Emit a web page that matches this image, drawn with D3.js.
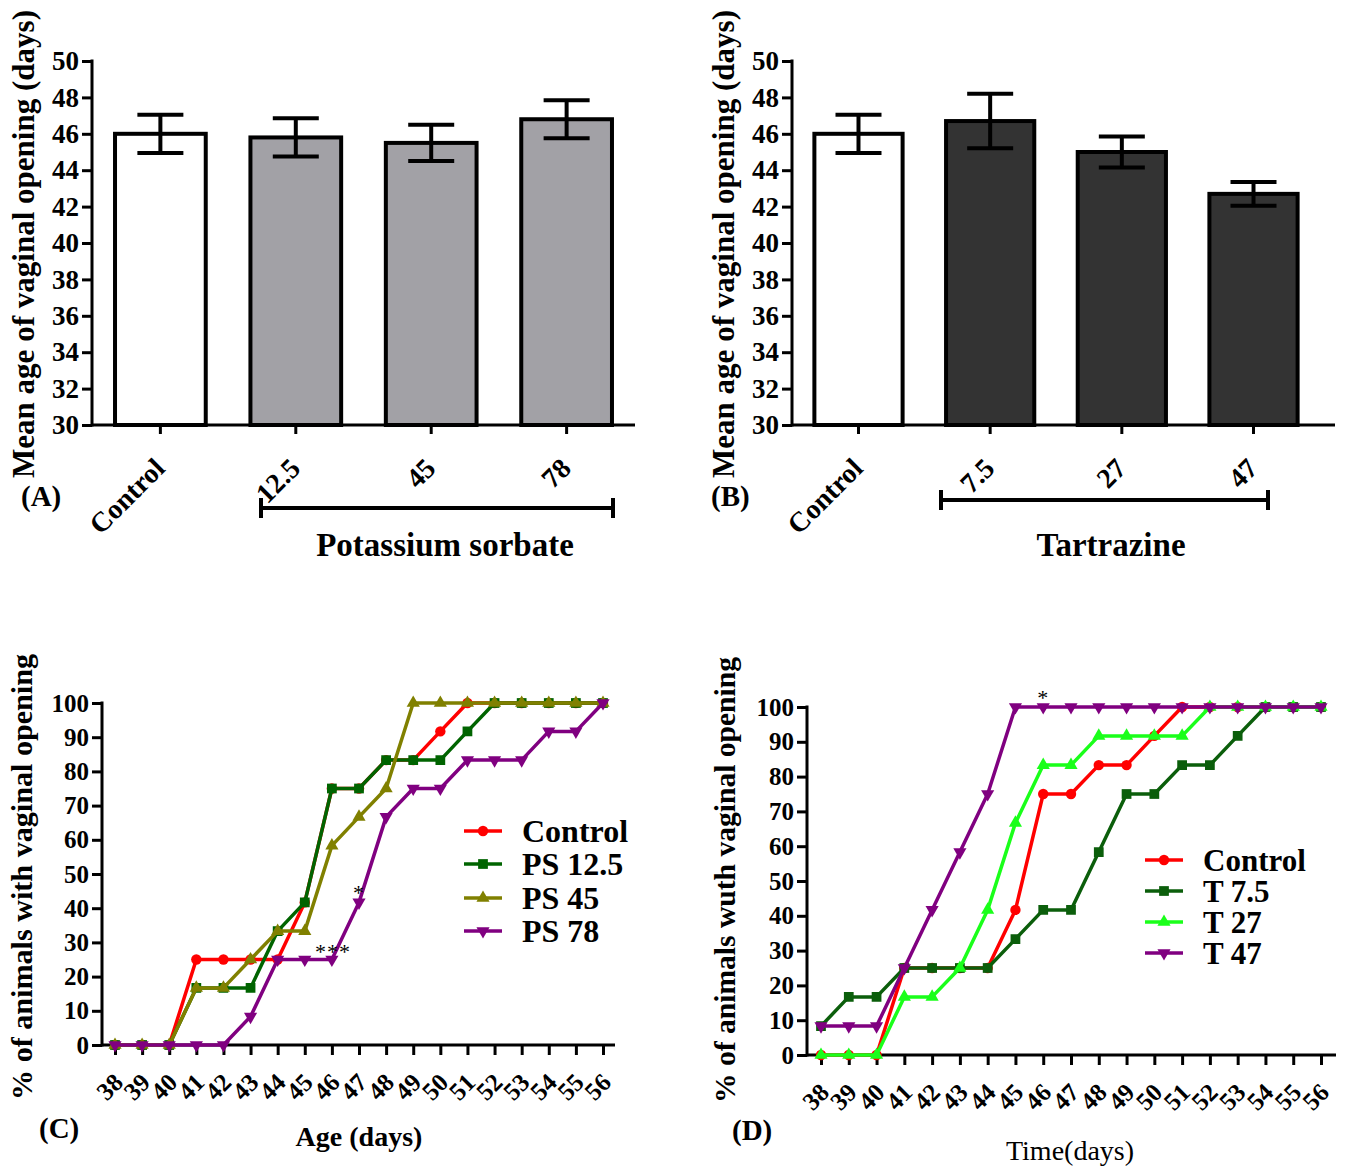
<!DOCTYPE html>
<html>
<head>
<meta charset="utf-8">
<script src="https://cdn.jsdelivr.net/npm/d3@7"></script>
<style>
  body { margin: 0; background: #fff; }
  svg { display: block; font-family: "Liberation Serif", "Times New Roman", serif; }
</style>
</head>
<body>
<svg id="fig" width="1346" height="1167"></svg>
<script>
// ---- data: panels A and B (mean age at vaginal opening, days) ----
var groupsA = ["Control", "12.5", "45", "78"];
var meansA = [46.0, 45.8, 45.5, 46.8];
var errA = [1.05, 1.05, 1.0, 1.05];
var fillsA = ["#ffffff", "#a2a1a6", "#a2a1a6", "#a2a1a6"];

var groupsB = ["Control", "7.5", "27", "47"];
var meansB = [46.0, 46.7, 45.0, 42.7];
var errB = [1.05, 1.5, 0.85, 0.65];
var fillsB = ["#ffffff", "#333333", "#333333", "#333333"];

var barTicks = [30, 32, 34, 36, 38, 40, 42, 44, 46, 48, 50];

// ---- data: panels C and D (% of animals with vaginal opening) ----
var days = [38, 39, 40, 41, 42, 43, 44, 45, 46, 47, 48, 49, 50, 51, 52, 53, 54, 55, 56];
var pctTicks = [0, 10, 20, 30, 40, 50, 60, 70, 80, 90, 100];

var controlC = [0, 0, 0, 25, 25, 25, 25, 41.7, 75, 75, 83.3, 83.3, 91.7, 100, 100, 100, 100, 100, 100];
var ps125 = [0, 0, 0, 16.7, 16.7, 16.7, 33.3, 41.7, 75, 75, 83.3, 83.3, 83.3, 91.7, 100, 100, 100, 100, 100];
var ps45 = [0, 0, 0, 16.7, 16.7, 25, 33.3, 33.3, 58.3, 66.7, 75, 100, 100, 100, 100, 100, 100, 100, 100];
var ps78 = [0, 0, 0, 0, 0, 8.3, 25, 25, 25, 41.7, 66.7, 75, 75, 83.3, 83.3, 83.3, 91.7, 91.7, 100];

var controlD = [0, 0, 0, 25, 25, 25, 25, 41.7, 75, 75, 83.3, 83.3, 91.7, 100, 100, 100, 100, 100, 100];
var t75 = [8.3, 16.7, 16.7, 25, 25, 25, 25, 33.3, 41.7, 41.7, 58.3, 75, 75, 83.3, 83.3, 91.7, 100, 100, 100];
var t27 = [0, 0, 0, 16.7, 16.7, 25, 41.7, 66.7, 83.3, 83.3, 91.7, 91.7, 91.7, 91.7, 100, 100, 100, 100, 100];
var t47 = [8.3, 8.3, 8.3, 25, 41.7, 58.3, 75, 100, 100, 100, 100, 100, 100, 100, 100, 100, 100, 100, 100];

var svg = d3.select("#fig");

function styleAxis(g, fontSize) {
    g.selectAll(".domain").remove();
    g.selectAll("line").attr("stroke", "#000").attr("stroke-width", 3);
    g.selectAll("text")
        .attr("fill", "#000")
        .style("font-family", "'Liberation Serif', 'Times New Roman', serif")
        .style("font-weight", "bold")
        .style("font-size", fontSize + "px");
}

function drawBarPanel(p) {
    var g = svg.append("g");
    var y = d3.scaleLinear().domain([30, 50]).range([425, 61]);
    var x = d3.scaleBand().domain(p.groups).range([p.left, p.right])
        .paddingInner(0.33).paddingOuter(0.17);

    // bars
    g.selectAll("rect.bar").data(p.groups).enter().append("rect")
        .attr("class", "bar")
        .attr("x", d => x(d))
        .attr("width", x.bandwidth())
        .attr("y", (d, i) => y(p.means[i]))
        .attr("height", (d, i) => y(30) - y(p.means[i]))
        .attr("fill", (d, i) => p.fills[i])
        .attr("stroke", "#000")
        .attr("stroke-width", 4);

    // error bars
    var eb = g.selectAll("g.err").data(p.groups).enter().append("g").attr("class", "err");
    eb.append("line")
        .attr("x1", d => x(d) + x.bandwidth() / 2)
        .attr("x2", d => x(d) + x.bandwidth() / 2)
        .attr("y1", (d, i) => y(p.means[i] - p.errs[i]))
        .attr("y2", (d, i) => y(p.means[i] + p.errs[i]))
        .attr("stroke", "#000").attr("stroke-width", 4);
    [-1, 1].forEach(function (s) {
        eb.append("line")
            .attr("x1", d => x(d) + x.bandwidth() / 2 - 23)
            .attr("x2", d => x(d) + x.bandwidth() / 2 + 23)
            .attr("y1", (d, i) => y(p.means[i] + s * p.errs[i]))
            .attr("y2", (d, i) => y(p.means[i] + s * p.errs[i]))
            .attr("stroke", "#000").attr("stroke-width", 4);
    });

    // y axis
    var ya = g.append("g").attr("transform", "translate(" + p.left + ",0)")
        .call(d3.axisLeft(y).tickValues(barTicks).tickSize(10).tickPadding(3));
    styleAxis(ya, 27);
    g.append("line").attr("x1", p.left).attr("x2", p.left)
        .attr("y1", y(50) - 1.5).attr("y2", y(30) + 1.5)
        .attr("stroke", "#000").attr("stroke-width", 3);

    // x axis
    var xa = g.append("g").attr("transform", "translate(0,425)")
        .call(d3.axisBottom(x).tickSize(9).tickPadding(0));
    styleAxis(xa, 28);
    xa.selectAll("text")
        .attr("y", 0).attr("dy", 0)
        .attr("text-anchor", "end")
        .attr("transform", "translate(6,45) rotate(-45)");
    g.append("line").attr("x1", p.left).attr("x2", p.axisEnd)
        .attr("y1", 425).attr("y2", 425)
        .attr("stroke", "#000").attr("stroke-width", 3);

    // bracket under treatment groups
    g.append("line").attr("x1", p.br[0]).attr("x2", p.br[1])
        .attr("y1", p.brY).attr("y2", p.brY)
        .attr("stroke", "#000").attr("stroke-width", 4);
    p.br.forEach(function (bx) {
        g.append("line").attr("x1", bx).attr("x2", bx)
            .attr("y1", p.brY - 10).attr("y2", p.brY + 10)
            .attr("stroke", "#000").attr("stroke-width", 4);
    });
    g.append("text").attr("x", p.labelX).attr("y", 556)
        .attr("text-anchor", "middle")
        .style("font-weight", "bold").style("font-size", "33px")
        .text(p.label);

    // y title
    g.append("text")
        .attr("transform", "translate(" + p.titleX + ",244) rotate(-90)")
        .attr("text-anchor", "middle")
        .attr("textLength", 468).attr("lengthAdjust", "spacingAndGlyphs")
        .style("font-weight", "bold").style("font-size", "31px")
        .text("Mean age of vaginal opening (days)");

    g.append("text").attr("x", p.tagX).attr("y", 506)
        .style("font-weight", "bold").style("font-size", "29px")
        .text(p.tag);
}

drawBarPanel({
    groups: groupsA, means: meansA, errs: errA, fills: fillsA,
    left: 92, right: 635, axisEnd: 635,
    br: [261, 613], brY: 508, label: "Potassium sorbate", labelX: 445,
    titleX: 34, tag: "(A)", tagX: 21
});

drawBarPanel({
    groups: groupsB, means: meansB, errs: errB, fills: fillsB,
    left: 792, right: 1320, axisEnd: 1335,
    br: [941, 1268], brY: 500, label: "Tartrazine", labelX: 1111,
    titleX: 734, tag: "(B)", tagX: 711
});

// symbols
var symCircle = d3.symbol().type(d3.symbolCircle).size(85);
var symSquare = d3.symbol().type(d3.symbolSquare).size(95);
var symUp = d3.symbol().type(d3.symbolTriangle).size(75);
var symDown = d3.symbol().type(d3.symbolTriangle).size(75);

function drawLinePanel(p) {
    var g = svg.append("g");
    var x = d3.scaleLinear().domain([38, 56]).range([p.x0, p.x1]);
    var y = d3.scaleLinear().domain([0, 100]).range([p.yBottom, p.yTop]);

    var line = d3.line().x((d, i) => x(days[i])).y(d => y(d));

    // axes
    var ya = g.append("g").attr("transform", "translate(" + p.axisX + ",0)")
        .call(d3.axisLeft(y).tickValues(pctTicks).tickSize(10).tickPadding(3));
    styleAxis(ya, 25);
    g.append("line").attr("x1", p.axisX).attr("x2", p.axisX)
        .attr("y1", y(100) - 1.5).attr("y2", y(0) + 1.5)
        .attr("stroke", "#000").attr("stroke-width", 3);

    var xa = g.append("g").attr("transform", "translate(0," + p.yBottom + ")")
        .call(d3.axisBottom(x).tickValues(days).tickFormat(d3.format("d")).tickSize(10).tickPadding(0));
    styleAxis(xa, 25);
    xa.selectAll("text")
        .attr("y", 0).attr("dy", 0)
        .attr("text-anchor", "end")
        .attr("transform", "translate(9,39) rotate(-45)");
    g.append("line").attr("x1", p.axisX).attr("x2", p.axisEnd)
        .attr("y1", p.yBottom).attr("y2", p.yBottom)
        .attr("stroke", "#000").attr("stroke-width", 3);

    // series
    p.series.forEach(function (s) {
        g.append("path").datum(s.values)
            .attr("d", line)
            .attr("fill", "none")
            .attr("stroke", s.color)
            .attr("stroke-width", 3.5)
            .attr("stroke-linejoin", "round");
        g.selectAll(null).data(s.values).enter().append("path")
            .attr("d", s.sym)
            .attr("transform", (d, i) => "translate(" + x(days[i]) + "," + y(d) + ")" + (s.flip ? " rotate(180)" : ""))
            .attr("fill", s.color);
    });

    // legend
    var lg = g.append("g");
    p.series.forEach(function (s, i) {
        var ly = p.legY[i];
        lg.append("line").attr("x1", p.legX).attr("x2", p.legX + 38)
            .attr("y1", ly).attr("y2", ly)
            .attr("stroke", s.color).attr("stroke-width", 3.5);
        lg.append("path").attr("d", s.sym)
            .attr("transform", "translate(" + (p.legX + 19) + "," + ly + ")" + (s.flip ? " rotate(180)" : ""))
            .attr("fill", s.color);
        lg.append("text").attr("x", p.legTextX).attr("y", ly + 11)
            .style("font-weight", "bold").style("font-size", p.legFont + "px")
            .text(s.name);
    });

    // y title
    g.append("text")
        .attr("transform", "translate(" + p.titleX + "," + p.titleY + ") rotate(-90)")
        .attr("text-anchor", "middle")
        .attr("textLength", 446).attr("lengthAdjust", "spacingAndGlyphs")
        .style("font-weight", "bold").style("font-size", "29px")
        .text(p.yTitle);

    // x title
    g.append("text").attr("x", p.xTitleX).attr("y", p.xTitleY)
        .attr("text-anchor", "middle")
        .style("font-weight", p.xTitleWeight).style("font-size", "28px")
        .text(p.xTitle);

    g.append("text").attr("x", p.tagX).attr("y", p.tagY)
        .style("font-weight", "bold").style("font-size", "29px")
        .text(p.tag);

    p.marks.forEach(function (m) {
        g.append("text").attr("x", x(m.day) + m.dx).attr("y", y(m.value) + m.dy)
            .attr("text-anchor", "middle")
            .style("font-size", "22px")
            .style("letter-spacing", "1px")
            .text(m.text);
    });
}

drawLinePanel({
    x0: 115, x1: 603, yBottom: 1045, yTop: 703, axisX: 102, axisEnd: 615,
    series: [
        { name: "Control", values: controlC, color: "#ff0000", sym: symCircle },
        { name: "PS 12.5", values: ps125, color: "#006400", sym: symSquare },
        { name: "PS 45", values: ps45, color: "#808000", sym: symUp },
        { name: "PS 78", values: ps78, color: "#800080", sym: symDown, flip: true }
    ],
    legX: 464, legY: [831, 864, 898, 931], legTextX: 522, legFont: 32,
    yTitle: "% of animals with vaginal opening", titleX: 32, titleY: 877,
    xTitle: "Age (days)", xTitleX: 359, xTitleY: 1146, xTitleWeight: "bold",
    tag: "(C)", tagX: 39, tagY: 1138,
    marks: [
        { text: "***", day: 46, value: 25, dx: 1, dy: -1 },
        { text: "*", day: 47, value: 41.7, dx: 0, dy: -2 }
    ]
});

drawLinePanel({
    x0: 821, x1: 1321, yBottom: 1055, yTop: 707, axisX: 807, axisEnd: 1336,
    series: [
        { name: "Control", values: controlD, color: "#ff0000", sym: symCircle },
        { name: "T 7.5", values: t75, color: "#0b5e0b", sym: symSquare },
        { name: "T 27", values: t27, color: "#1aff1a", sym: symUp },
        { name: "T 47", values: t47, color: "#800080", sym: symDown, flip: true }
    ],
    legX: 1145, legY: [860, 891, 922, 953], legTextX: 1203, legFont: 31,
    yTitle: "% of animals wuth vaginal opening", titleX: 735, titleY: 880,
    xTitle: "Time(days)", xTitleX: 1070, xTitleY: 1160, xTitleWeight: "normal",
    tag: "(D)", tagX: 732, tagY: 1140,
    marks: [
        { text: "*", day: 46, value: 100, dx: 0, dy: -2 }
    ]
});
</script>
</body>
</html>
